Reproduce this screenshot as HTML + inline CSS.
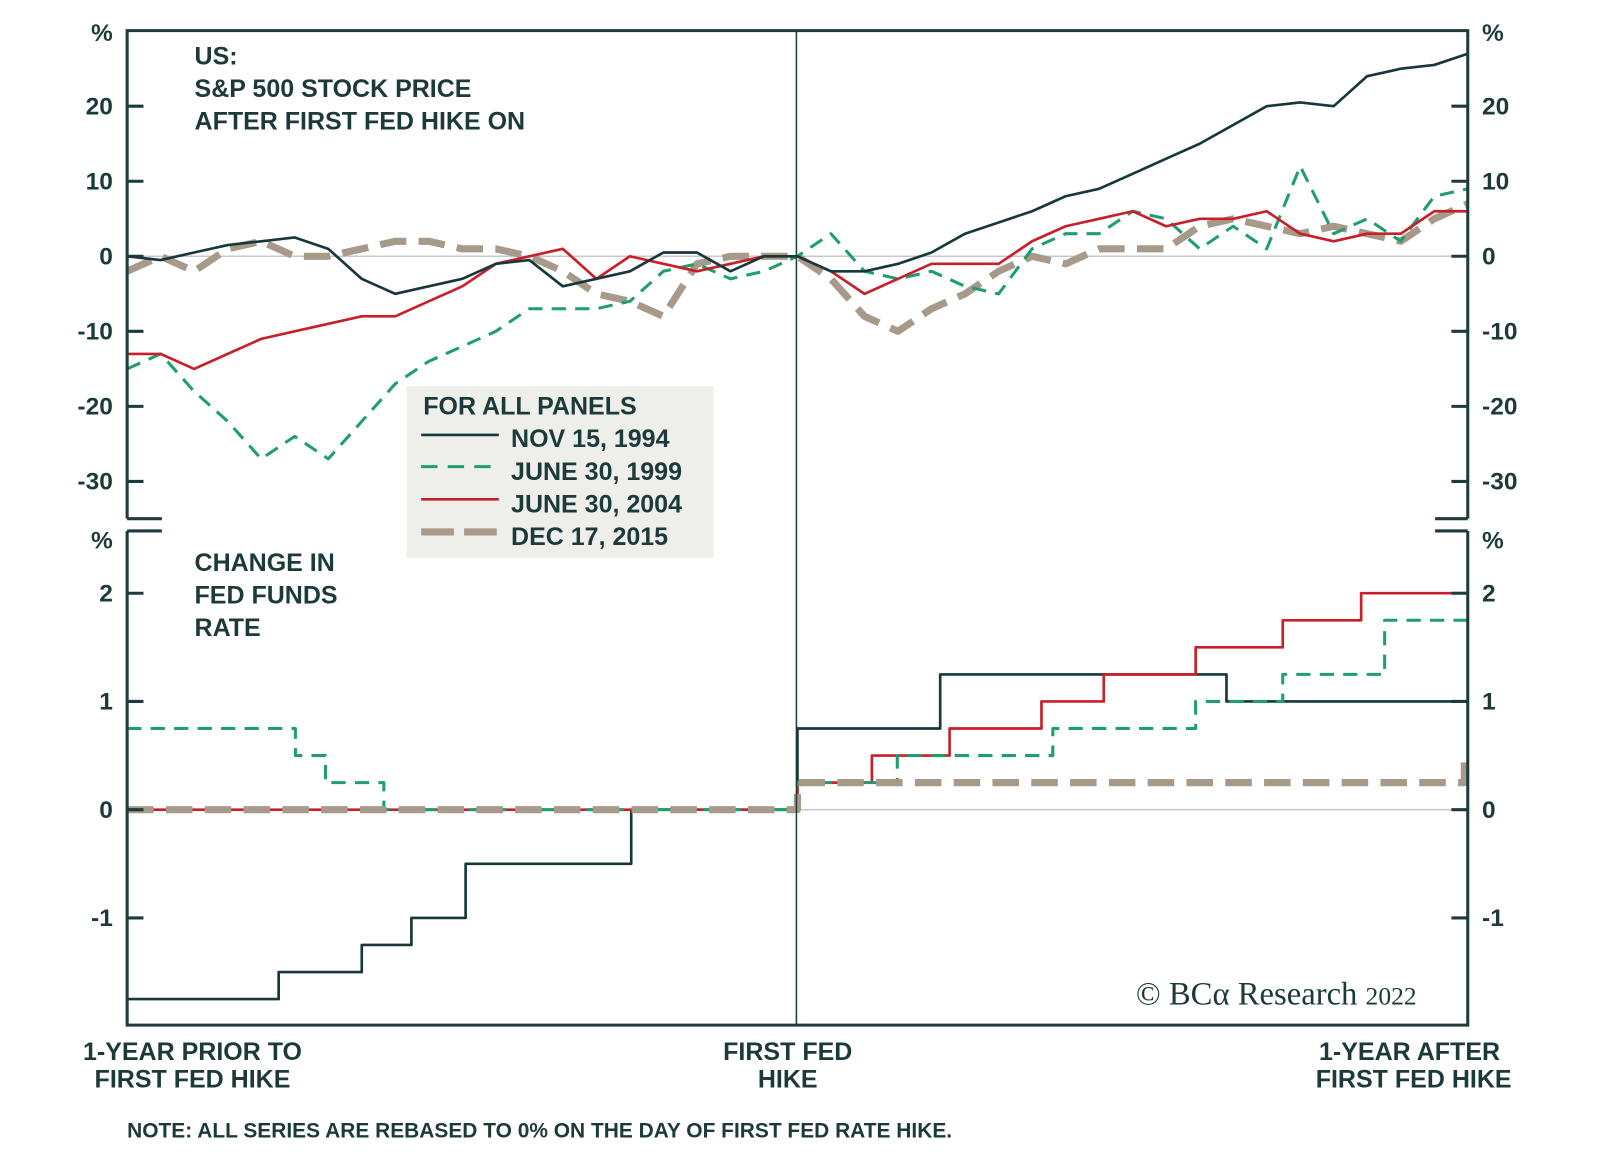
<!DOCTYPE html>
<html><head><meta charset="utf-8">
<style>
html,body{margin:0;padding:0;background:#fff;}
svg{display:block;}
text{font-family:"Liberation Sans",Arial,sans-serif;font-weight:bold;fill:#1d3a3a;}
</style></head>
<body>
<svg id="chart" width="1600" height="1165" viewBox="0 0 1566 1141" xmlns="http://www.w3.org/2000/svg">
  <rect x="0" y="0" width="1566" height="1141" fill="#fff"/>
  <g id="grid"></g>
  <g id="series"></g>
  <g id="axes"></g>
  <g id="labels"></g>
</svg>
<script>
// ---- data ----
const stockT = Array.from({length:41},(_,k)=>-1+k*0.05);
const nov1994 = [0,-0.5,0.5,1.5,2,2.5,1,-3,-5,-4,-3,-1,-0.5,-4,-3,-2,0.5,0.5,-2,0,0,-2,-2,-1,0.5,3,4.5,6,8,9,11,13,15,17.5,20,20.5,20,24,25,25.5,27];
const jun1999 = [-15,-13,-18,-22,-27,-24,-27,-22,-17,-14,-12,-10,-7,-7,-7,-6,-2,-1,-3,-2,0,3,-2,-3,-2,-4,-5,1,3,3,6,5,1,4,1,12,3,5,2,8,9];
const jun2004 = [-13,-13,-15,-13,-11,-10,-9,-8,-8,-6,-4,-1,0,1,-3,0,-1,-2,-1,0,0,-2,-5,-3,-1,-1,-1,2,4,5,6,4,5,5,6,3,2,3,3,6,6];
const dec2015 = [-2,0,-2,1,2,0,0,1,2,2,1,1,0,-2,-5,-6,-8,-1,0,0,0,-3,-8,-10,-7,-5,-2,0,-1,1,1,1,4,5,4,3,4,3,2,5,7];
const topTicks = [20,10,0,-10,-20,-30];
const botTicks = [2,1,0,-1];
const ffStarts1994 = [-1,-0.774,-0.650,-0.576,-0.495,-0.248,0,0.213,0.640];
const ffLevels1994 = [-1.75,-1.5,-1.25,-1.0,-0.5,0,0.75,1.25,1.0];
const ffStarts1999 = [-1,-0.749,-0.704,-0.617,0,0.149,0.381,0.594,0.724,0.876];
const ffLevels1999 = [0.75,0.5,0.25,0,0.25,0.5,0.75,1.0,1.25,1.75];
const ffStarts2004 = [-1,0,0.111,0.227,0.364,0.457,0.594,0.724,0.841];
const ffLevels2004 = [0,0.25,0.5,0.75,1.0,1.25,1.5,1.75,2.0];
const ffStarts2015 = [-1,0,0.995];
const ffLevels2015 = [0,0.25,0.5];

// ---- scales ----
const X0=124, X1=1437;
const xs = t => X0 + (t+1)/2*(X1-X0);
const yTop = v => 251 - v*7.35;
const yBot = v => 793 - v*106;
const NS="http://www.w3.org/2000/svg";
function mk(tag, attrs, parent){const e=document.createElementNS(NS,tag);for(const k in attrs)e.setAttribute(k,attrs[k]);parent.appendChild(e);return e;}
const grid=document.getElementById('grid'), ser=document.getElementById('series'), axes=document.getElementById('axes'), lab=document.getElementById('labels');

let z1=mk('line',{x1:X0,x2:X1,y1:yTop(0),y2:yTop(0),stroke:'#c8c8c8','stroke-width':1.5},grid);


let z2=mk('line',{x1:X0,x2:X1,y1:yBot(0),y2:yBot(0),stroke:'#c8c8c8','stroke-width':1.5},grid);



const styles = {
  s1994:{stroke:'#17383a',w:2.6,dash:''},
  s1999:{stroke:'#1f9e6e',w:3,dash:'14 9'},
  s2004:{stroke:'#c8202a',w:2.6,dash:''},
  s2015:{stroke:'#a89a8a',w:7,dash:'26 12'}
};
function linePath(vals){return vals.map((v,i)=>(i?'L':'M')+xs(stockT[i]).toFixed(1)+','+yTop(v).toFixed(1)).join('');}
function stepPath(starts,levels){let d='';for(let i=0;i<starts.length;i++){const x=xs(starts[i]),y=yBot(levels[i]);d+=(i?'L'+x.toFixed(1)+','+yBot(levels[i-1]).toFixed(1)+'L':'M')+x.toFixed(1)+','+y.toFixed(1);}d+='L'+X1+','+yBot(levels[levels.length-1]).toFixed(1);return d;}
function addPath(d,st,name){const p=mk('path',{d:d,fill:'none',stroke:st.stroke,'stroke-width':st.w,'stroke-dasharray':st.dash,'stroke-linejoin':'round'},ser);

}

addPath(stepPath(ffStarts1994,ffLevels1994),styles.s1994,'fedfunds-line-1994');
addPath(stepPath(ffStarts2004,ffLevels2004),styles.s2004,'fedfunds-line-2004');
addPath(stepPath(ffStarts1999,ffLevels1999),styles.s1999,'fedfunds-line-1999');
addPath(stepPath(ffStarts2015,ffLevels2015),styles.s2015,'fedfunds-line-2015');

addPath(linePath(dec2015),styles.s2015,'sp500-line-2015');
addPath(linePath(jun1999),styles.s1999,'sp500-line-1999');
addPath(linePath(jun2004),styles.s2004,'sp500-line-2004');
addPath(linePath(nov1994),styles.s1994,'sp500-line-1994');

const ax='#1e3b3c';
let fr=mk('path',{d:`M${X0},508 L${X0},30 L${X1},30 L${X1},508 M${X0},520 L${X0},1004 L${X1},1004 L${X1},520`,fill:'none',stroke:ax,'stroke-width':3},axes);


let dv=mk('line',{x1:779.5,x2:779.5,y1:30,y2:1004,stroke:ax,'stroke-width':1.5},axes);


let br=mk('path',{d:`M${X0},508 L158,508 M${X0},520 L158,520 M1405,508 L${X1},508 M1405,520 L${X1},520`,stroke:ax,'stroke-width':3},axes);



function tick(y,v,name){
  let a=mk('line',{x1:X0,x2:X0+16,y1:y,y2:y,stroke:ax,'stroke-width':3},axes);
  
  
  let b=mk('line',{x1:X1-16,x2:X1,y1:y,y2:y,stroke:ax,'stroke-width':3},axes);
  
  
  let t1=mk('text',{x:110,y:y+8,'text-anchor':'end','font-size':24},lab);t1.textContent=v;
  
  
  let t2=mk('text',{x:1451,y:y+8,'font-size':24},lab);t2.textContent=v;
  
  
}
topTicks.forEach(v=>tick(yTop(v),v,'top-tick'));
botTicks.forEach(v=>tick(yBot(v),v,'bottom-tick'));
</script>
<svg style="position:absolute;left:0;top:0" width="1600" height="1165" viewBox="0 0 1566 1141" xmlns="http://www.w3.org/2000/svg">
  <text x="110" y="40" text-anchor="end" font-size="24">%</text>
  <text x="1451" y="40" font-size="24">%</text>
  <text x="110" y="537" text-anchor="end" font-size="24">%</text>
  <text x="1451" y="537" font-size="24">%</text>
  <g font-size="24.5">
    <text x="190" y="63">US:</text>
    <text x="190" y="95">S&amp;P 500 STOCK PRICE</text>
    <text x="190" y="127">AFTER FIRST FED HIKE ON</text>
  </g>
  <g font-size="24.5">
    <text x="190" y="559">CHANGE IN</text>
    <text x="190" y="591">FED FUNDS</text>
    <text x="190" y="623">RATE</text>
  </g>
  <g>
    <rect x="398" y="378" width="300" height="168" fill="#eeeeea"/>
    <text x="414" y="406" font-size="24.5">FOR ALL PANELS</text>
    <line x1="412" x2="488" y1="426" y2="426" stroke="#17383a" stroke-width="2.6"/>
    <text x="500" y="438" font-size="24.5">NOV 15, 1994</text>
    <line x1="412" x2="488" y1="457" y2="457" stroke="#1f9e6e" stroke-width="3" stroke-dasharray="16 10"/>
    <text x="500" y="470" font-size="24.5">JUNE 30, 1999</text>
    <line x1="412" x2="488" y1="489" y2="489" stroke="#c8202a" stroke-width="2.6"/>
    <text x="500" y="502" font-size="24.5">JUNE 30, 2004</text>
    <line x1="412" x2="488" y1="521" y2="521" stroke="#a89a8a" stroke-width="7" stroke-dasharray="32 10"/>
    <text x="500" y="534" font-size="24.5">DEC 17, 2015</text>
  </g>
  <text x="1112" y="984" font-size="32" style="font-family:'Liberation Serif',serif;font-weight:normal">© BCα Research <tspan font-size="25">2022</tspan></text>
  <g font-size="24.5" text-anchor="middle">
    <text x="188" y="1038">1-YEAR PRIOR TO</text>
    <text x="188" y="1065">FIRST FED HIKE</text>
    <text x="771" y="1038">FIRST FED</text>
    <text x="771" y="1065">HIKE</text>
    <text x="1380" y="1038">1-YEAR AFTER</text>
    <text x="1384" y="1065">FIRST FED HIKE</text>
  </g>
  <text x="124" y="1114" font-size="20.5">NOTE: ALL SERIES ARE REBASED TO 0% ON THE DAY OF FIRST FED RATE HIKE.</text>
</svg>
</body></html>
